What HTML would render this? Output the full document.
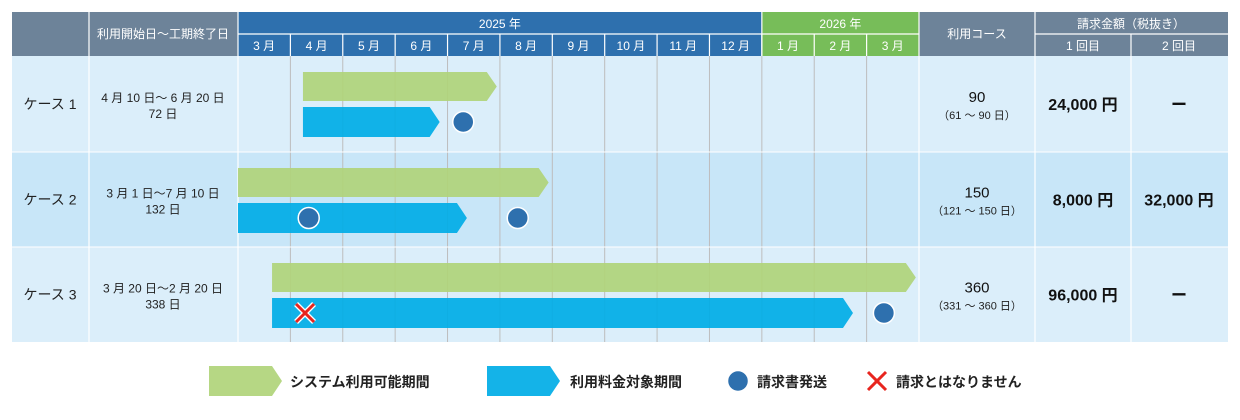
<!DOCTYPE html>
<html><head><meta charset="utf-8"><style>
html,body{margin:0;padding:0;background:#fff;width:1240px;height:420px;overflow:hidden}
svg text{font-family:"Liberation Sans","Noto Sans CJK JP",sans-serif}
</style></head><body>
<svg id="c" width="1240" height="420" viewBox="0 0 1240 420" xmlns="http://www.w3.org/2000/svg">
<g id="bg"></g><g id="grid"></g><g id="marks"></g><g id="txt"></g><g id="legend"></g>
</svg>
<script>
const months=["3 月","4 月","5 月","6 月","7 月","8 月","9 月","10 月","11 月","12 月","1 月","2 月","3 月"];
const cases=["ケース 1","ケース 2","ケース 3"];
const periods=[["4 月 10 日〜 6 月 20 日","72 日"],["3 月 1 日〜7 月 10 日","132 日"],["3 月 20 日〜2 月 20 日","338 日"]];
const courses=[["90","（61 〜 90 日）"],["150","（121 〜 150 日）"],["360","（331 〜 360 日）"]];
const pay1=["24,000 円","8,000 円","96,000 円"];
const pay2=["ー","32,000 円","ー"];
// positions in months from start of March 2025
const greenStart=[1.24,0,0.65];
const greenEnd=[4.94,5.93,12.94];
const blueStart=[1.24,0,0.65];
const blueEnd=[3.85,4.37,11.74];
const invoices=[[4.3],[1.35,5.34],[12.33]];
const noInvoice=[[],[],[1.28]];

const NS="http://www.w3.org/2000/svg";
function el(p,t,a,txt){const e=document.createElementNS(NS,t);for(const k in a)e.setAttribute(k,a[k]);if(txt!==undefined)e.textContent=txt;document.getElementById(p).appendChild(e);return e;}
const X0=238,MW=(919-238)/13;
const xs=m=>X0+m*MW;
const rowTop=[56,152,247],rowH=[96,95,95];
const GRAY="#6d8399",BLUE="#2e70ae",GREEN="#77bd59";

// header
let e;
e=el("bg","rect",{x:12,y:12,width:226,height:44,fill:GRAY});
e=el("bg","rect",{x:238,y:12,width:MW*10,height:44,fill:BLUE});
e=el("bg","rect",{x:xs(10),y:12,width:MW*3,height:44,fill:GREEN});
e=el("bg","rect",{x:919,y:12,width:309,height:44,fill:GRAY});
// rows
for(let i=0;i<3;i++){
 e=el("bg","rect",{x:12,y:rowTop[i],width:1216,height:rowH[i],fill:i==1?"#c8e6f8":"#dbeefa"});
 
}
// header lines
el("grid","line",{x1:238,y1:34,x2:919,y2:34,stroke:"#fff","stroke-width":1.2});
el("grid","line",{x1:1035,y1:34,x2:1228,y2:34,stroke:"#fff","stroke-width":1.2});
[89,238,919,1035].forEach(x=>el("grid","line",{x1:x,y1:12,x2:x,y2:342,stroke:"#fff","stroke-width":1.2}));
el("grid","line",{x1:1131,y1:34,x2:1131,y2:342,stroke:"#fff","stroke-width":1.2});
el("grid","line",{x1:xs(10),y1:12,x2:xs(10),y2:56,stroke:"#fff","stroke-width":1.2});
for(let m=1;m<13;m++){
 el("grid","line",{x1:xs(m),y1:34,x2:xs(m),y2:56,stroke:"#fff","stroke-width":1.2});
 el("grid","line",{x1:xs(m),y1:56,x2:xs(m),y2:342,stroke:"#bdbdbd","stroke-width":1});
}
[152,247].forEach(y=>el("grid","line",{x1:12,y1:y,x2:1228,y2:y,stroke:"#fff","stroke-width":1}));

// header text
const hs={fill:"#fff","font-size":12,"text-anchor":"middle"};
function T(g,x,y,s,a,name){const o=Object.assign({x:x,y:y},a);const t=el(g,"text",o,s);return t;}
T("txt",163,38,"利用開始日〜工期終了日",hs,"period-header");
T("txt",xs(5),28,"2025 年",hs,"year-2025-label");
T("txt",xs(11.5),28,"2026 年",hs,"year-2026-label");
T("txt",977,38,"利用コース",hs,"course-header");
T("txt",1131,28,"請求金額（税抜き）",hs,"amount-header");
T("txt",1083,50,"1 回目",hs,"first-payment-header");
T("txt",1179,50,"2 回目",hs,"second-payment-header");
months.forEach((m,i)=>T("txt",xs(i+0.5),50,m,hs,"month-label-"+(i+1)));

// body text
for(let i=0;i<3;i++){
 const cy=rowTop[i]+rowH[i]/2;
 T("txt",50,cy+5,cases[i],{fill:"#222","font-size":14,"text-anchor":"middle"},"case-label-"+(i+1));
 T("txt",163,cy-2,periods[i][0],{fill:"#222","font-size":12,"text-anchor":"middle"},"period-range-"+(i+1));
 T("txt",163,cy+14,periods[i][1],{fill:"#222","font-size":12,"text-anchor":"middle"},"period-days-"+(i+1));
 T("txt",977,cy-2,courses[i][0],{fill:"#111","font-size":15,"text-anchor":"middle"},"course-value-"+(i+1));
 T("txt",977,cy+15,courses[i][1],{fill:"#222","font-size":11,"text-anchor":"middle"},"course-range-"+(i+1));
 T("txt",1083,cy+6,pay1[i],{fill:"#111","font-size":16,"font-weight":"bold","text-anchor":"middle"},"first-payment-"+(i+1));
 T("txt",1179,cy+6,pay2[i],{fill:"#111","font-size":16,"font-weight":"bold","text-anchor":"middle"},"second-payment-"+(i+1));
}

// marks
function arrow(g,x1,x2,y,h,color,name){
 const p=el(g,"polygon",{points:`${x1},${y} ${x2-10},${y} ${x2},${y+h/2} ${x2-10},${y+h} ${x1},${y+h}`,fill:color,"fill-opacity":0.92});
 return p;
}
function dot(g,cx,cy,name){const c=el(g,"circle",{cx:cx,cy:cy,r:10.5,fill:"#2e70ae",stroke:"#fff","stroke-width":1.5});}
function cross(g,cx,cy,name){const gg=el(g,"g",{});
 gg.id=name;
 [[-9,-9,9,9],[9,-9,-9,9]].forEach(d=>{el(name,"line",{x1:cx+d[0],y1:cy+d[1],x2:cx+d[2],y2:cy+d[3],stroke:"#fff","stroke-width":5.5});});
 [[-9,-9,9,9],[9,-9,-9,9]].forEach(d=>{el(name,"line",{x1:cx+d[0],y1:cy+d[1],x2:cx+d[2],y2:cy+d[3],stroke:"#e8251e","stroke-width":3});});}
for(let i=0;i<3;i++){
 const t=rowTop[i];
 arrow("marks",xs(greenStart[i]),xs(greenEnd[i]),t+16,29,"#b0d47a","usable-period-bar-"+(i+1));
 arrow("marks",xs(blueStart[i]),xs(blueEnd[i]),t+51,30,"#00ade6","billing-period-bar-"+(i+1));
 invoices[i].forEach((m,j)=>dot("marks",xs(m),t+66,"invoice-marker-"+(i+1)+"-"+(j+1)));
 noInvoice[i].forEach((m,j)=>cross("marks",xs(m),t+66,"no-invoice-marker-"+(i+1)+"-"+(j+1)));
}

// legend
arrow("legend",209,282,366,30,"#b0d47a","legend-usable-swatch");
T("legend",290,387,"システム利用可能期間",{fill:"#222","font-size":14,"font-weight":"bold"},"legend-usable-label");
arrow("legend",487,560,366,30,"#00ade6","legend-billing-swatch");
T("legend",570,387,"利用料金対象期間",{fill:"#222","font-size":14,"font-weight":"bold"},"legend-billing-label");
dot("legend",738,381,"legend-invoice-swatch");
T("legend",757,387,"請求書発送",{fill:"#222","font-size":14,"font-weight":"bold"},"legend-invoice-label");
cross("legend",877,381,"legend-no-invoice-swatch");
T("legend",896,387,"請求とはなりません",{fill:"#222","font-size":14,"font-weight":"bold"},"legend-no-invoice-label");
</script>
</body></html>
